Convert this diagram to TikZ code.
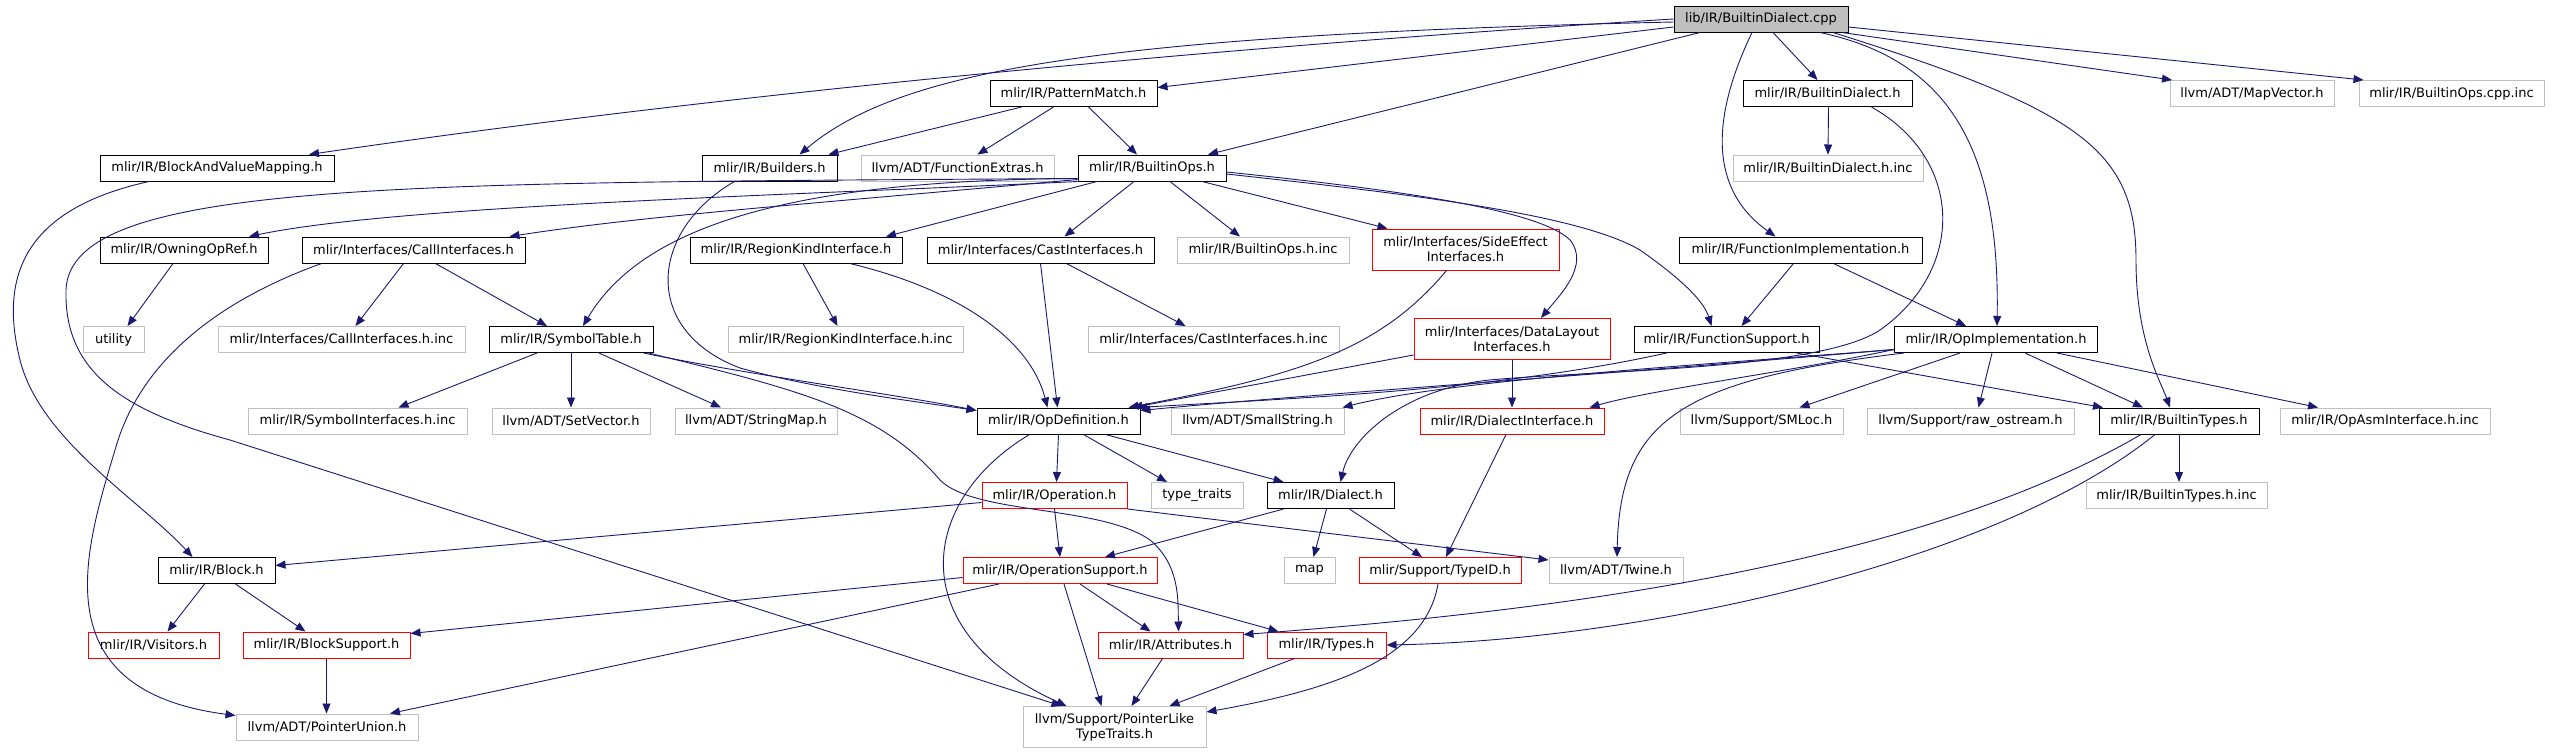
\documentclass[tikz,border=0pt]{standalone}
\usepackage{fontspec}
\setmainfont{DejaVu Sans}
\usetikzlibrary{arrows.meta}

\definecolor{edgeblue}{RGB}{25,25,112}
\definecolor{extgray}{RGB}{191,191,191}

\tikzset{
  file/.style={rectangle, line width=1pt, inner sep=0pt, minimum height=26pt,
    align=center, font=\fontsize{13pt}{15pt}\selectfont},
  boxw/.style={minimum width=#1pt},
  doc/.style={file, draw=black},
  ext/.style={file, draw=extgray},
  trunc/.style={file, draw=red},
  twoline/.style={minimum height=41pt},
  dep/.style={draw=edgeblue, line width=0.9pt, -{Triangle[length=10pt,width=8pt]}}
}

\begin{document}
\begin{tikzpicture}[x=1pt,y=-1pt]

% Page size
\useasboundingbox (0,0) rectangle (2554,753);

% Row 0
\node[doc, fill=extgray, boxw=174] (root) at (1761,19) {lib/IR/BuiltinDialect.cpp};

% Row 1
\node[doc, boxw=167] (pm) at (1073.5,93.5) {mlir/IR/PatternMatch.h};
\node[doc, boxw=169] (bdh) at (1827.5,93.5) {mlir/IR/BuiltinDialect.h};
\node[ext, boxw=164] (mapvec) at (2252,93.5) {llvm/ADT/MapVector.h};
\node[ext, boxw=185] (opscppinc) at (2451.5,93.5) {mlir/IR/BuiltinOps.cpp.inc};

% Row 2
\node[doc, boxw=234] (bavm) at (217,168) {mlir/IR/BlockAndValueMapping.h};
\node[doc, boxw=135] (builders) at (769.5,168) {mlir/IR/Builders.h};
\node[ext, boxw=193] (fnextras) at (957.5,168) {llvm/ADT/FunctionExtras.h};
\node[doc, boxw=148] (bops) at (1152,168) {mlir/IR/BuiltinOps.h};
\node[ext, boxw=190] (bdhinc) at (1828,168) {mlir/IR/BuiltinDialect.h.inc};

% Row 3
\node[doc, boxw=168] (owning) at (184,250) {mlir/IR/OwningOpRef.h};
\node[doc, boxw=223] (callif) at (413.5,250) {mlir/Interfaces/CallInterfaces.h};
\node[doc, boxw=212] (regionkind) at (796,250) {mlir/IR/RegionKindInterface.h};
\node[doc, boxw=227] (castif) at (1040.5,250) {mlir/Interfaces/CastInterfaces.h};
\node[ext, boxw=172] (opsinc) at (1263,250) {mlir/IR/BuiltinOps.h.inc};
\node[trunc, twoline, boxw=187] (sideeffect) at (1465.5,249.5) {mlir/Interfaces/SideEffect\\Interfaces.h};
\node[doc, boxw=243] (fnimpl) at (1800.5,250) {mlir/IR/FunctionImplementation.h};

% Row 4
\node[ext, boxw=61] (utility) at (113.5,339.5) {utility};
\node[ext, boxw=247] (callifinc) at (341.5,339.5) {mlir/Interfaces/CallInterfaces.h.inc};
\node[doc, boxw=164] (symtab) at (571,339.5) {mlir/IR/SymbolTable.h};
\node[ext, boxw=235] (regionkindinc) at (845.5,339.5) {mlir/IR/RegionKindInterface.h.inc};
\node[ext, boxw=251] (castifinc) at (1213.5,339.5) {mlir/Interfaces/CastInterfaces.h.inc};
\node[trunc, twoline, boxw=196] (datalayout) at (1512,339) {mlir/Interfaces/DataLayout\\Interfaces.h};
\node[doc, boxw=185] (fnsupport) at (1726.5,339.5) {mlir/IR/FunctionSupport.h};
\node[doc, boxw=203] (opimpl) at (1996,339.5) {mlir/IR/OpImplementation.h};

% Row 5
\node[ext, boxw=219] (syminc) at (357.5,421) {mlir/IR/SymbolInterfaces.h.inc};
\node[ext, boxw=158] (setvec) at (571,421) {llvm/ADT/SetVector.h};
\node[ext, boxw=162] (strmap) at (756,421) {llvm/ADT/StringMap.h};
\node[doc, boxw=163] (opdef) at (1058.5,421) {mlir/IR/OpDefinition.h};
\node[ext, boxw=173] (smallstr) at (1257.5,421) {llvm/ADT/SmallString.h};
\node[trunc, boxw=184] (dialectif) at (1512,421) {mlir/IR/DialectInterface.h};
\node[ext, boxw=163] (smloc) at (1761.5,421) {llvm/Support/SMLoc.h};
\node[ext, boxw=207] (rawos) at (1970.5,421) {llvm/Support/raw\_ostream.h};
\node[doc, boxw=160] (btypes) at (2179,421) {mlir/IR/BuiltinTypes.h};
\node[ext, boxw=210] (opasminc) at (2385,421) {mlir/IR/OpAsmInterface.h.inc};

% Row 6
\node[trunc, boxw=145] (operation) at (1054.5,495.5) {mlir/IR/Operation.h};
\node[ext, boxw=92] (typetraits) at (1197,495.5) {type\_traits};
\node[doc, boxw=127] (dialect) at (1330.5,495.5) {mlir/IR/Dialect.h};
\node[ext, boxw=181] (btypesinc) at (2176.5,495.5) {mlir/IR/BuiltinTypes.h.inc};

% Row 7
\node[doc, boxw=117] (block) at (216.5,570.5) {mlir/IR/Block.h};
\node[trunc, boxw=194] (opsupport) at (1060,570.5) {mlir/IR/OperationSupport.h};
\node[ext, boxw=51] (map) at (1309.5,570.5) {map};
\node[trunc, boxw=162] (typeid) at (1440,570.5) {mlir/Support/TypeID.h};
\node[ext, boxw=134] (twine) at (1616,570.5) {llvm/ADT/Twine.h};

% Row 8
\node[trunc, boxw=131] (visitors) at (153.5,645) {mlir/IR/Visitors.h};
\node[trunc, boxw=167] (blocksupport) at (326.5,645) {mlir/IR/BlockSupport.h};
\node[trunc, boxw=145] (attributes) at (1170.5,645) {mlir/IR/Attributes.h};
\node[trunc, boxw=119] (types) at (1326.5,645) {mlir/IR/Types.h};

% Row 9
\node[ext, boxw=182] (ptrunion) at (327,727) {llvm/ADT/PointerUnion.h};
\node[ext, twoline, boxw=183] (plt) at (1114.5,727) {llvm/Support/PointerLike\\TypeTraits.h};

% Includes of the .cpp file
\draw[dep] (root.west) .. controls (1250,45) and (750,90) .. ([xshift=92pt]bavm.north);
\draw[dep] ([yshift=-3pt]root.west) .. controls (1100,35) and (900,70) .. ([xshift=30pt]builders.north);
\draw[dep] ([yshift=-8pt]root.west) -- ([yshift=6pt]pm.east);
\draw[dep] ([xshift=-61pt]root.south) -- ([xshift=56pt]bops.north);
\draw[dep] ([xshift=12pt]root.south) -- ([xshift=-10pt]bdh.north);
\draw[dep] ([xshift=-9pt]root.south) .. controls (1710,120) and (1710,190) .. ([xshift=-25pt]fnimpl.north);
\draw[dep] ([xshift=59pt]root.south) .. controls (1950,60) and (2000,150) .. ([xshift=1pt]opimpl.north);
\draw[dep] ([xshift=72pt]root.south) .. controls (2080,110) and (2136,150) .. (2136,260)
  .. controls (2136,340) and (2160,380) .. ([xshift=-9pt]btypes.north);
\draw[dep] ([xshift=81pt]root.south) -- ([xshift=-80pt]mapvec.north);
\draw[dep] ([yshift=-8pt]root.east) -- ([xshift=-88pt]opscppinc.north);

% PatternMatch.h
\draw[dep] ([xshift=-52pt]pm.south) -- ([xshift=59pt]builders.north);
\draw[dep] ([xshift=-20pt]pm.south) -- ([xshift=20pt]fnextras.north);
\draw[dep] ([xshift=15pt]pm.south) -- ([xshift=-15pt]bops.north);

% BuiltinOps.h
\draw[dep] (bops.south west) .. controls (800,195) and (400,205) .. ([xshift=65pt]owning.north);
\draw[dep] ([yshift=2pt]bops.south west) .. controls (800,205) and (650,215) .. ([xshift=96pt]callif.north);
\draw[dep] ([yshift=3pt]bops.south west) .. controls (780,180) and (640,230) .. ([xshift=12pt]symtab.north);
\draw[dep] ([xshift=-55pt]bops.south) -- ([xshift=90pt]regionkind.north);
\draw[dep] ([xshift=-18pt]bops.south) -- ([xshift=24pt]castif.north);
\draw[dep] ([xshift=18pt]bops.south) -- ([xshift=-23pt]opsinc.north);
\draw[dep] ([xshift=50pt]bops.south) -- ([xshift=-78pt]sideeffect.north);
\draw[dep] ([yshift=-4pt]bops.east) .. controls (1400,190) and (1540,210) .. (1570,240)
  .. controls (1590,265) and (1560,295) .. ([xshift=29pt]datalayout.north);
\draw[dep] ([yshift=-6pt]bops.east) .. controls (1420,195) and (1580,215) .. (1640,250)
  .. controls (1690,285) and (1705,305) .. ([xshift=-15pt]fnsupport.north);
\draw[dep] ([yshift=3pt]bops.south west) .. controls (400,183) and (70,180) .. (66,290)
  .. controls (64,370) and (120,410) .. (230,440) -- ([xshift=-53pt]plt.north);

% Second row of headers
\draw[dep] ([xshift=-35pt]builders.south) .. controls (650,230) and (640,330) .. (740,368)
  .. controls (820,390) and (920,402) .. ([yshift=-3pt]opdef.north west);
\draw[dep] ([xshift=-68pt]bavm.south) .. controls (20,210) and (0,280) .. (20,360)
  .. controls (40,440) and (140,500) .. ([xshift=-24pt]block.north);
\draw[dep] ([xshift=1pt]bdh.south) -- (bdhinc.north);
\draw[dep] ([xshift=44pt]bdh.south) .. controls (1965,160) and (1965,270) .. (1880,330)
  .. controls (1820,370) and (1600,370) .. (1489,380)
  .. controls (1400,390) and (1350,440) .. ([xshift=10pt]dialect.north);

% Interfaces
\draw[dep] ([xshift=-11pt]owning.south) -- ([xshift=14pt]utility.north);
\draw[dep] ([xshift=-10pt]callif.south) -- ([xshift=14pt]callifinc.north);
\draw[dep] ([xshift=22pt]callif.south) -- ([xshift=-24pt]symtab.north);
\draw[dep] ([xshift=-92pt]callif.south) .. controls (220,300) and (140,360) .. (115,450)
  .. controls (85,550) and (40,690) .. ([yshift=-2pt]ptrunion.north west);
\draw[dep] ([xshift=7pt]regionkind.south) -- ([xshift=-8pt]regionkindinc.north);
\draw[dep] ([xshift=54pt]regionkind.south) .. controls (960,290) and (1030,340) .. ([xshift=-11pt]opdef.north);
\draw[dep] ([xshift=26pt]castif.south) -- ([xshift=-28pt]castifinc.north);
\draw[dep] (castif.south) -- ([xshift=-1pt]opdef.north);
\draw[dep] ([xshift=-19pt]sideeffect.south) .. controls (1380,350) and (1300,375) .. ([xshift=-12pt]opdef.north east);
\draw[dep] ([yshift=-16pt]datalayout.west) -- ([xshift=-8pt]opdef.north east);
\draw[dep] (datalayout.south) -- (dialectif.north);

% Function headers
\draw[dep] ([xshift=-7pt]fnimpl.south) -- ([xshift=15pt]fnsupport.north);
\draw[dep] ([xshift=33pt]fnimpl.south) -- ([xshift=-30pt]opimpl.north);
\draw[dep] ([xshift=-60pt]fnsupport.south) .. controls (1500,390) and (1300,398) .. ([xshift=-3pt]opdef.north east);
\draw[dep] ([xshift=70pt]fnsupport.south) -- ([xshift=-76pt]btypes.north);

% OpImplementation.h
\draw[dep] ([yshift=-10pt]opimpl.west) .. controls (1600,375) and (1300,395) .. ([yshift=-3pt]opdef.north east);
\draw[dep] ([yshift=-10pt]opimpl.west) .. controls (1700,365) and (1450,380) .. ([xshift=-2pt]smallstr.north east);
\draw[dep] ([yshift=-10pt]opimpl.west) .. controls (1800,370) and (1650,390) .. ([xshift=-15pt]dialectif.north east);
\draw[dep] ([xshift=-36pt]opimpl.south) -- ([xshift=38pt]smloc.north);
\draw[dep] ([xshift=-4pt]opimpl.south) -- ([xshift=8pt]rawos.north);
\draw[dep] ([xshift=29pt]opimpl.south) -- ([xshift=-36pt]btypes.north);
\draw[dep] ([xshift=61pt]opimpl.south) -- ([xshift=-67pt]opasminc.north);
\draw[dep] ([xshift=-92pt]opimpl.south) .. controls (1680,380) and (1620,420) .. ([xshift=1pt]twine.north);

% SymbolTable.h
\draw[dep] ([xshift=-34pt]symtab.south) -- ([xshift=41pt]syminc.north);
\draw[dep] (symtab.south) -- (setvec.north);
\draw[dep] ([xshift=28pt]symtab.south) -- ([xshift=-35pt]strmap.north);
\draw[dep] ([xshift=-10pt]symtab.south east) .. controls (750,375) and (900,395) .. ([yshift=-3pt]opdef.north west);
\draw[dep] ([xshift=-5pt]symtab.south east) .. controls (800,390) and (880,410) .. (940,480)
  .. controls (975,515) and (1100,505) .. (1150,540)
  .. controls (1180,565) and (1178,600) .. ([xshift=8pt]attributes.north);

% OpDefinition.h
\draw[dep] (opdef.south) -- ([xshift=2pt]operation.north);
\draw[dep] ([xshift=25pt]opdef.south) -- ([xshift=-30pt]typetraits.north);
\draw[dep] ([xshift=47pt]opdef.south) -- ([xshift=-47pt]dialect.north);
\draw[dep] ([xshift=-29pt]opdef.south) .. controls (920,500) and (900,630) .. ([xshift=-48pt]plt.north);

% Operation.h and Dialect.h
\draw[dep] (operation.south) -- (opsupport.north);
\draw[dep] ([yshift=-7pt]operation.west) -- ([yshift=5pt]block.east);
\draw[dep] (operation.south east) -- ([yshift=-3pt]twine.north west);
\draw[dep] ([xshift=-47pt]dialect.south) -- ([xshift=45pt]opsupport.north);
\draw[dep] ([xshift=-4pt]dialect.south) -- ([xshift=4pt]map.north);
\draw[dep] ([xshift=19pt]dialect.south) -- ([xshift=-18pt]typeid.north);
\draw[dep] ([xshift=-6pt]dialectif.south) -- ([xshift=6pt]typeid.north);

% OperationSupport.h
\draw[dep] ([yshift=-7pt]opsupport.west) -- ([yshift=-2pt]blocksupport.north east);
\draw[dep] ([xshift=-61pt]opsupport.south) -- ([xshift=63pt]ptrunion.north);
\draw[dep] ([xshift=20pt]opsupport.south) -- ([xshift=-20pt]attributes.north);
\draw[dep] ([xshift=47pt]opsupport.south) -- ([xshift=-48pt]types.north);
\draw[dep] ([xshift=4pt]opsupport.south) -- ([xshift=-13pt]plt.north);

% Bottom rows
\draw[dep] ([xshift=-2pt]typeid.south) .. controls (1425,660) and (1330,690) .. ([yshift=-6pt]plt.north east);
\draw[dep] ([xshift=-8pt]attributes.south) -- ([xshift=17pt]plt.north);
\draw[dep] ([xshift=-32pt]types.south) -- ([xshift=55pt]plt.north);
\draw[dep] ([xshift=-12pt]block.south) -- ([xshift=14pt]visitors.north);
\draw[dep] ([xshift=19pt]block.south) -- ([xshift=-21pt]blocksupport.north);
\draw[dep] (blocksupport.south) -- ([xshift=-0.5pt]ptrunion.north);

% BuiltinTypes.h
\draw[dep] (btypes.south) -- ([xshift=2.5pt]btypesinc.north);
\draw[dep] ([xshift=-38pt]btypes.south) .. controls (1900,575) and (1500,615) .. ([yshift=-3pt]attributes.north east);
\draw[dep] ([xshift=-24pt]btypes.south) .. controls (2000,560) and (1650,640) .. (types.east);

\end{tikzpicture}
\end{document}
